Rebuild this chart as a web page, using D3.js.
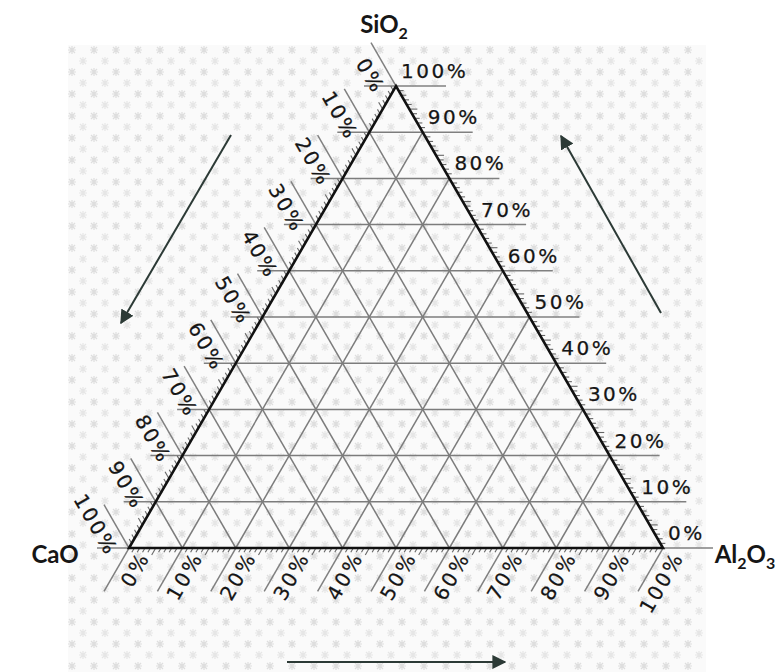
<!DOCTYPE html>
<html>
<head>
<meta charset="utf-8">
<script src="https://cdn.jsdelivr.net/npm/d3@7"></script>
<style>
  html, body { margin: 0; padding: 0; background: #ffffff; }
  svg { display: block; }
  .tick-label { font-family: "DejaVu Sans", Verdana, sans-serif; font-size: 20px; letter-spacing: 2.5px; fill: #151515; stroke: #151515; stroke-width: 0.25px; }
  .corner { font-family: Lato, "Open Sans", sans-serif; font-weight: 700; font-size: 24px; fill: #161616; }
</style>
</head>
<body>
<script>
// Ternary diagram CaO – SiO2 – Al2O3
const components = ["CaO", "SiO2", "Al2O3"];
const gridSteps = [0.1, 0.2, 0.3, 0.4, 0.5, 0.6, 0.7, 0.8, 0.9];
const majorValues = [0, 0.1, 0.2, 0.3, 0.4, 0.5, 0.6, 0.7, 0.8, 0.9, 1];
const tickLabels = ["0%", "10%", "20%", "30%", "40%", "50%", "60%", "70%", "80%", "90%", "100%"];
const minorValues = d3.range(1, 100).filter(i => i % 10 !== 0).map(i => i / 100);

const W = 782, H = 672;
const svg = d3.select("body").append("svg").attr("width", W).attr("height", H);

// textured paper background
const defs = svg.append("defs");
const pat = defs.append("pattern").attr("id", "paper").attr("patternUnits", "userSpaceOnUse")
  .attr("width", 22).attr("height", 22);
pat.append("rect").attr("width", 22).attr("height", 22).attr("fill", "#fafafa");
pat.append("path").attr("d", "M3,3 L9,9 M9,3 L3,9 M6,2 L6,10 M2,6 L10,6")
  .attr("stroke", "#dedede").attr("stroke-width", 1.2);
pat.append("path").attr("d", "M14,14 L20,20 M20,14 L14,20 M17,13 L17,21 M13,17 L21,17")
  .attr("stroke", "#e6e6e6").attr("stroke-width", 1.2);
svg.append("rect").attr("x", 68).attr("y", 45).attr("width", 638).attr("height", 627)
  .attr("fill", "url(#paper)");

// arrowhead marker
defs.append("marker").attr("id", "arrow").attr("viewBox", "0 0 10 10")
  .attr("refX", 9).attr("refY", 5).attr("markerWidth", 7).attr("markerHeight", 7)
  .attr("orient", "auto-start-reverse").attr("markerUnits", "strokeWidth")
  .append("path").attr("d", "M0,0 L10,5 L0,10 z").attr("fill", "#2c3a36");

// scales: horizontal position along the base, vertical position by SiO2 fraction
const xScale = d3.scaleLinear().domain([0, 1]).range([129, 663]);
const yScale = d3.scaleLinear().domain([0, 1]).range([548, 86]);
// (al, si) -> pixel
function pt(al, si) { return [xScale(al + si / 2), yScale(si)]; }

const leftPoint = v => pt(0, 1 - v);          // CaO = v on left edge
const rightPoint = v => pt(1 - v, v);         // SiO2 = v on right edge
const bottomPoint = v => pt(v, 0);            // Al2O3 = v on base

const c60 = 0.5, s60 = Math.sqrt(3) / 2;
const dirLeft = [-c60, -s60];   // outward from left edge
const dirBottom = [-c60, s60];  // outward from base
const dirRight = [1, 0];        // outward from right edge

const line = d3.line();
const g = svg.append("g");

// inner grid
const gridColor = "#7c7c7c";
gridSteps.forEach(v => {
  g.append("path").attr("d", line([pt(0, v), pt(1 - v, v)]));             // SiO2 = v
  g.append("path").attr("d", line([pt(v, 0), pt(v, 1 - v)]));             // Al2O3 = v
  g.append("path").attr("d", line([pt(1 - v, 0), pt(0, 1 - v)]));         // CaO = v
});
g.selectAll("path").attr("fill", "none").attr("stroke", gridColor).attr("stroke-width", 1.5);

const ext = svg.append("g").attr("stroke", "#808080").attr("stroke-width", 1.5).attr("fill", "none");
const add = (p, d, len) => [p[0] + d[0] * len, p[1] + d[1] * len];

// extension lines at each 10 %
majorValues.forEach(v => {
  const pr = rightPoint(v);
  ext.append("path").attr("d", line([pr, add(pr, dirRight, 50)]));
  const pl = leftPoint(1 - v);   // horizontal SiO2 line also runs a little past left edge
  ext.append("path").attr("d", line([add(pl, [-1, 0], 32), pl]));
  const pb = bottomPoint(v);
  ext.append("path").attr("d", line([pb, add(pb, dirBottom, 50)]));
  const pc = leftPoint(v);
  ext.append("path").attr("d", line([pc, add(pc, dirLeft, 50)]));
});

// minor ticks every 1 %
const ticks = svg.append("g").attr("stroke", "#666").attr("stroke-width", 1.1);
minorValues.forEach(v => {
  const pr = rightPoint(v), pb = bottomPoint(v), pc = leftPoint(v);
  const len = (Math.round(v * 100) % 5 === 0) ? 8 : 5;
  ticks.append("path").attr("d", line([pr, add(pr, dirRight, len)]));
  ticks.append("path").attr("d", line([pb, add(pb, dirBottom, len)]));
  ticks.append("path").attr("d", line([pc, add(pc, dirLeft, len)]));
});

// triangle outline
svg.append("path")
  .attr("d", line([pt(0, 0), pt(1, 0), pt(0, 1)]) + "Z")
  .attr("fill", "none").attr("stroke", "#111").attr("stroke-width", 2.6)
  .attr("stroke-linejoin", "miter");

// tick labels
const lab = svg.append("g");
majorValues.forEach((v, i) => {
  // right: SiO2
  const pr = rightPoint(v);
  lab.append("text").attr("class", "tick-label")
    .attr("x", pr[0] + 5).attr("y", pr[1] - 8)
    .text(tickLabels[i]);
  // bottom: Al2O3
  const pb = bottomPoint(v);
  const nb = [s60, c60];
  const qb = [pb[0] + dirBottom[0] * -3 + nb[0] * 16, pb[1] + dirBottom[1] * -3 + nb[1] * 16];
  lab.append("text").attr("class", "tick-label")
    .attr("text-anchor", "end").attr("dominant-baseline", "central")
    .attr("transform", `translate(${qb[0]},${qb[1]}) rotate(-60)`)
    .text(tickLabels[i]);
  // left: CaO
  const pc = leftPoint(v);
  const nc = [-s60, c60];
  const qc = [pc[0] + dirLeft[0] * 3 + nc[0] * 17, pc[1] + dirLeft[1] * 3 + nc[1] * 17];
  lab.append("text").attr("class", "tick-label")
    .attr("text-anchor", "end").attr("dominant-baseline", "central")
    .attr("transform", `translate(${qc[0]},${qc[1]}) rotate(60)`)
    .text(tickLabels[i]);
});

// corner labels with subscripts
function corner(x, y, parts) {
  const t = svg.append("text").attr("class", "corner").attr("x", x).attr("y", y).attr("text-anchor", "middle");
  let lowered = false;
  parts.forEach(([s, sub]) => {
    const dy = sub ? (lowered ? 0 : 6) : (lowered ? -6 : 0);
    lowered = !!sub;
    t.append("tspan").attr("font-size", sub ? 16 : null).attr("dy", dy).text(s);
  });
}
corner(384, 33, [["SiO"], ["2", true]]);
corner(55, 563, [["CaO"]]);
corner(745, 563, [["Al"], ["2", true], ["O"], ["3", true]]);

// direction arrows
const arrows = [
  [[231, 135], [121, 323]],
  [[661, 313], [561, 136]],
  [[287, 662], [505, 662]]
];
arrows.forEach(a => {
  svg.append("path").attr("d", line(a)).attr("stroke", "#2c3a36").attr("stroke-width", 2)
    .attr("fill", "none").attr("marker-end", "url(#arrow)");
});
</script>
</body>
</html>
